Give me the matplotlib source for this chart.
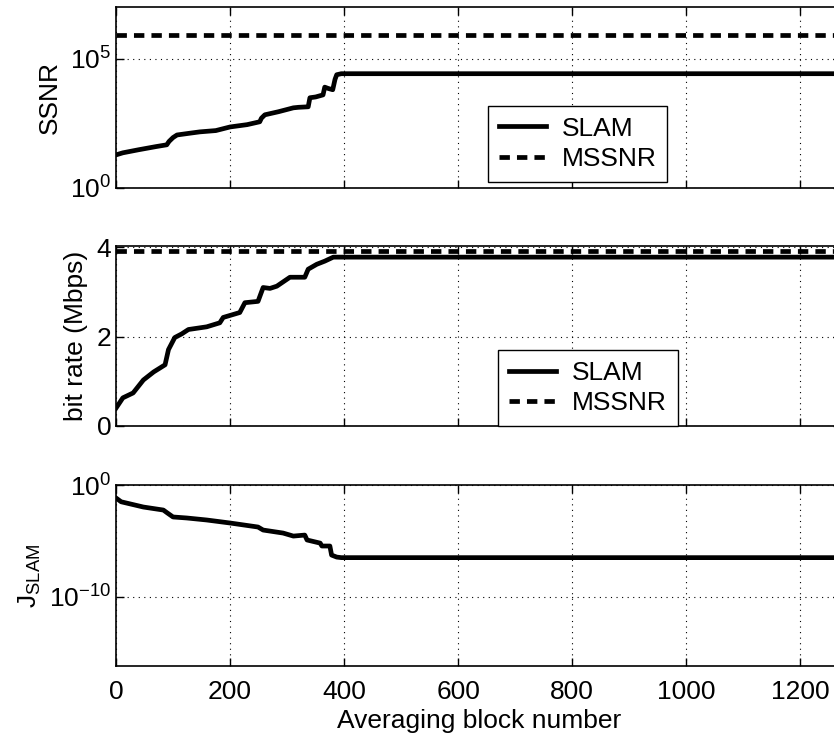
import matplotlib
matplotlib.use("Agg")
from matplotlib import pyplot
import numpy as np

# values
blockSsnr = [0, 12, 40, 70, 89, 93, 100, 107, 130, 147, 175, 200, 230, 252, 255, 261, 285, 311, 320, 337, 340, 350, 363, 366, 372, 380, 384, 387, 395, 1272]
ssnrSlamLog = [1.28, 1.36, 1.48, 1.6, 1.67, 1.8, 1.95, 2.05, 2.12, 2.17, 2.22, 2.36, 2.45, 2.56, 2.7, 2.83, 2.95, 3.10, 3.12, 3.14, 3.49, 3.52, 3.6, 3.9, 3.85, 3.8, 4.2, 4.38, 4.42, 4.42]
ssnrMssnr = 8.5e5

blockRate = [0, 12, 30, 48, 66, 86, 92, 103, 115, 127, 159, 182, 188, 217, 226, 249, 258, 270, 282, 305, 331, 337, 352, 366, 381, 390, 1272]
rateSlam = [0.40, 0.63, 0.74, 1.03, 1.21, 1.37, 1.71, 1.98, 2.06, 2.16, 2.22, 2.31, 2.43, 2.54, 2.76, 2.79, 3.10, 3.08, 3.13, 3.33, 3.33, 3.51, 3.62, 3.69, 3.78, 3.78, 3.78]
rateMssnr = 3.92

blockJ = [0, 9, 48, 83, 90, 100, 124, 159, 200, 249, 258, 293, 311, 331, 335, 358, 361, 375, 378, 387, 395, 1272]
jSlamLog = [-1.16, -1.5, -1.97, -2.24, -2.5, -2.86, -2.95, -3.13, -3.40, -3.76, -4.03, -4.3, -4.57, -4.48, -4.92, -5.2, -5.46, -5.46, -6.27, -6.45, -6.5, -6.5]

xTicks = [0, 200, 400, 600, 800, 1000, 1200]

pyplot.rcParams["font.family"] = "Liberation Sans"
pyplot.rcParams["mathtext.fontset"] = "custom"
pyplot.rcParams["mathtext.rm"] = "Liberation Sans"
pyplot.rcParams["mathtext.it"] = "Liberation Sans:italic"
pyplot.rcParams["font.size"] = 19

fig = pyplot.figure(figsize=(8.34, 7.36), dpi=100)
xMax = 1272
left = 0.1391
width = xMax * 0.5703 / 834
ax1 = fig.add_axes([left, 0.7446, width, 0.2459])
ax2 = fig.add_axes([left, 0.4212, width, 0.2446])
ax3 = fig.add_axes([left, 0.0951, width, 0.2459])

lw = 3.4
dash = (2.2, 1.5)
legendStyle = dict(fancybox=False, edgecolor="black", framealpha=1, handlelength=1.8,
                   borderpad=0.4, labelspacing=0.25, handletextpad=0.6, borderaxespad=0)

ax1.semilogy(blockSsnr, 10 ** np.array(ssnrSlamLog), color="black", lw=lw, label="SLAM")
ax1.semilogy([0, xMax], [ssnrMssnr, ssnrMssnr], color="black", lw=lw, dashes=dash, label="MSSNR")
ax1.set_ylim(1, 1e7)
ax1.set_yticks([1, 1e5])
ax1.set_yticklabels([r"$10^{0}$", r"$10^{5}$"])
ax1.set_ylabel("SSNR")
leg1 = ax1.legend(loc="upper left", bbox_to_anchor=(0.513, 0.453), **legendStyle)
leg1.get_frame().set_linewidth(1.0)

ax2.plot(blockRate, rateSlam, color="black", lw=lw, label="SLAM")
ax2.plot([0, xMax], [rateMssnr, rateMssnr], color="black", lw=lw, dashes=dash, label="MSSNR")
ax2.set_ylim(0, 4.03)
ax2.set_yticks([0, 2, 4])
ax2.set_ylabel("bit rate (Mbps)")
leg2 = ax2.legend(loc="lower left", bbox_to_anchor=(0.527, 0.0), **legendStyle)
leg2.get_frame().set_linewidth(1.0)

ax3.semilogy(blockJ, 10 ** np.array(jSlamLog), color="black", lw=lw)
ax3.set_ylim(10 ** -16.2, 1)
ax3.set_yticks([1e-10, 1])
ax3.set_yticklabels([r"$10^{-10}$", r"$10^{0}$"])
ax3.set_ylabel(r"$\mathrm{J_{SLAM}}$")
ax3.set_xlabel("Averaging block number", labelpad=4)

for ax in (ax1, ax2, ax3):
    ax.set_xlim(0, xMax)
    ax.set_xticks(xTicks)
    ax.minorticks_off()
    ax.grid(True, linestyle=(0, (1, 4)), color="black", lw=0.8)
    ax.tick_params(direction="in", top=True, right=True, length=6, width=1)
    for s in ax.spines.values():
        s.set_linewidth(1.2)
ax1.tick_params(labelbottom=False)
ax2.tick_params(labelbottom=False)
ax3.tick_params(axis="x", pad=10)
ax1.yaxis.set_label_coords(-0.0745, 0.5)
ax2.yaxis.set_label_coords(-0.0386, 0.5)
ax3.yaxis.set_label_coords(-0.100, 0.5)

pyplot.savefig("out.png", dpi=100)
